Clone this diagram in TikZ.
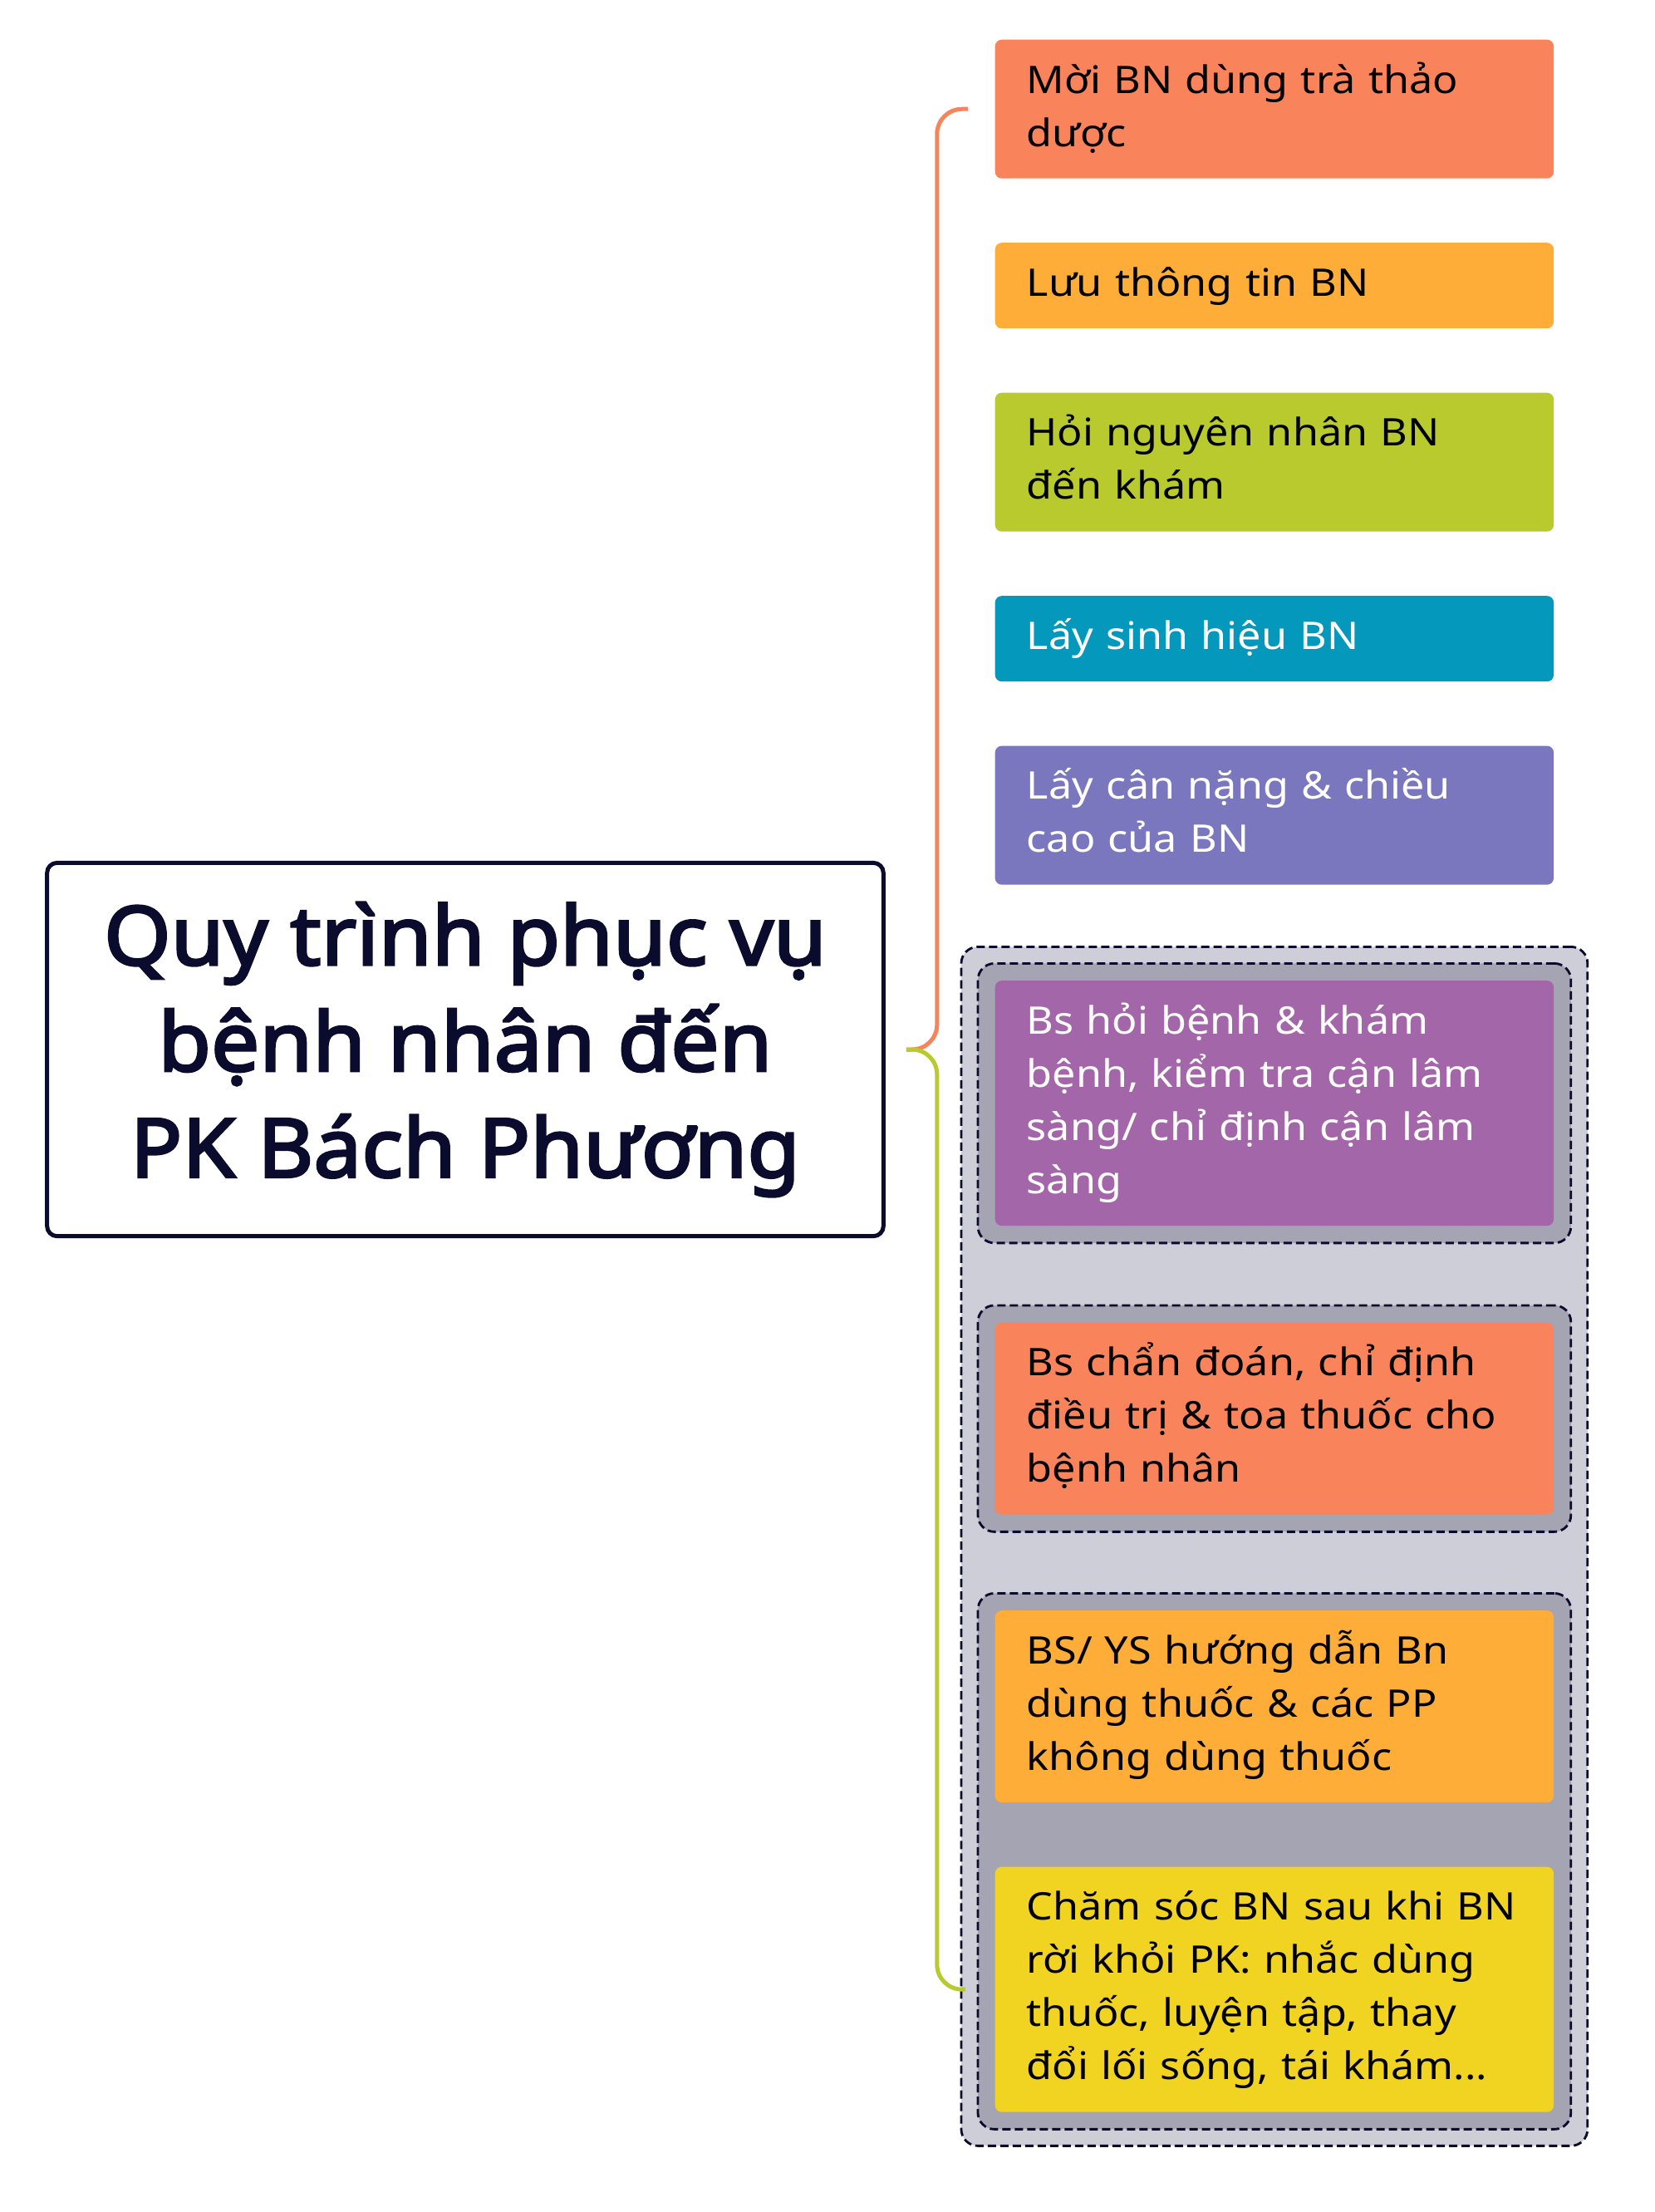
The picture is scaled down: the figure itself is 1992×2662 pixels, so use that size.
\documentclass[tikz,border=0pt]{standalone}
\usepackage{fontspec}
\setmainfont{Noto Sans}[FakeStretch=1.1]
\newfontfamily\titlefont{Noto Sans}[FakeBold=3, FakeStretch=1.05]
\usetikzlibrary{positioning,fit,backgrounds}

\definecolor{mauCam}{HTML}{F9835A}
\definecolor{mauVangCam}{HTML}{FDAD38}
\definecolor{mauXanhLa}{HTML}{B8CA2E}
\definecolor{mauXanhDuong}{HTML}{0398BC}
\definecolor{mauTimNhat}{HTML}{7B77BF}
\definecolor{mauTim}{HTML}{A366A9}
\definecolor{mauVang}{HTML}{F1D322}
\definecolor{mauXamNhat}{HTML}{CECED8}
\definecolor{mauXamDam}{HTML}{A4A4B2}
\definecolor{mauNavy}{HTML}{0B0B2E}

\begin{document}
\begin{tikzpicture}[
	x=0.01cm,
	y=-0.01cm,
	node distance=0.76cm,
	nhanh/.style={
		rectangle,
		rounded corners=0.08cm,
		text width=5.96cm,
		align=left,
		inner xsep=0.38cm,
		inner ysep=0.195cm,
		font=\fontsize{13}{18.2}\selectfont,
		execute at begin node=\strut,
		execute at end node=\strut
	},
	goc/.style={
		draw=mauNavy,
		line width=0.05cm,
		rounded corners=0.12cm,
		minimum width=10.06cm,
		minimum height=4.49cm,
		align=center,
		text=mauNavy,
		font=\titlefont\fontsize{28}{36.3}\selectfont
	},
	nhom/.style={
		draw=mauNavy,
		line width=0.8pt,
		dash pattern=on 0.1cm off 0.05cm,
		rounded corners=0.2cm
	},
	lien/.style={
		line width=0.05cm,
		rounded corners=0.3cm
	}
]
\useasboundingbox (0,0) rectangle (1992,2662);

\node[goc] (GOC) at (560,1263) {Quy trình phục vụ\\bệnh nhân đến\\PK Bách Phương};

\node[nhanh, fill=mauCam, anchor=north west] (MOI) at (1197,47)
{Mời BN dùng trà thảo\\dược};
\node[nhanh, fill=mauVangCam] (LUU) [below=of MOI] {Lưu thông tin BN};
\node[nhanh, fill=mauXanhLa] (HOI) [below=of LUU]
{Hỏi nguyên nhân BN\\đến khám};
\node[nhanh, fill=mauXanhDuong, text=white] (SINH) [below=of HOI]
{Lấy sinh hiệu BN};
\node[nhanh, fill=mauTimNhat, text=white] (CAN) [below=of SINH]
{Lấy cân nặng \& chiều\\cao của BN};

\node[nhanh, fill=mauTim, text=white] (KHAM) [below=1.14cm of CAN]
{Bs hỏi bệnh \& khám\\bệnh, kiểm tra cận lâm\\sàng/ chỉ định cận lâm\\sàng};
\node[nhanh, fill=mauCam] (CHAN) [below=1.15cm of KHAM]
{Bs chẩn đoán, chỉ định\\điều trị \& toa thuốc cho\\bệnh nhân};
\node[nhanh, fill=mauVangCam] (HUONG) [below=1.14cm of CHAN]
{BS/ YS hướng dẫn Bn\\dùng thuốc \& các PP\\không dùng thuốc};
\node[nhanh, fill=mauVang] (CHAM) [below=of HUONG]
{Chăm sóc BN sau khi BN\\rời khỏi PK: nhắc dùng\\thuốc, luyện tập, thay\\đổi lối sống, tái khám...};

\begin{scope}[on background layer]
\node[nhom, fill=mauXamNhat, inner sep=0.4cm, fit=(KHAM) (CHAM)] (NHOM) {};
\node[nhom, fill=mauXamDam, inner sep=0.2cm, fit=(KHAM)] (NHOM1) {};
\node[nhom, fill=mauXamDam, inner sep=0.2cm, fit=(CHAN)] (NHOM2) {};
\node[nhom, fill=mauXamDam, inner sep=0.2cm, fit=(HUONG) (CHAM)] (NHOM3) {};
\end{scope}

\coordinate (NOI) at ([xshift=0.25cm]GOC.east);

\draw[lien, draw=mauCam] (NOI) -- ++(0.37cm,0) |- ([xshift=-0.32cm]MOI.west);
\draw[lien, draw=mauXanhLa] (NOI) -- ++(0.37cm,0) |- ([xshift=-0.35cm]CHAM.west);

\end{tikzpicture}
\end{document}
